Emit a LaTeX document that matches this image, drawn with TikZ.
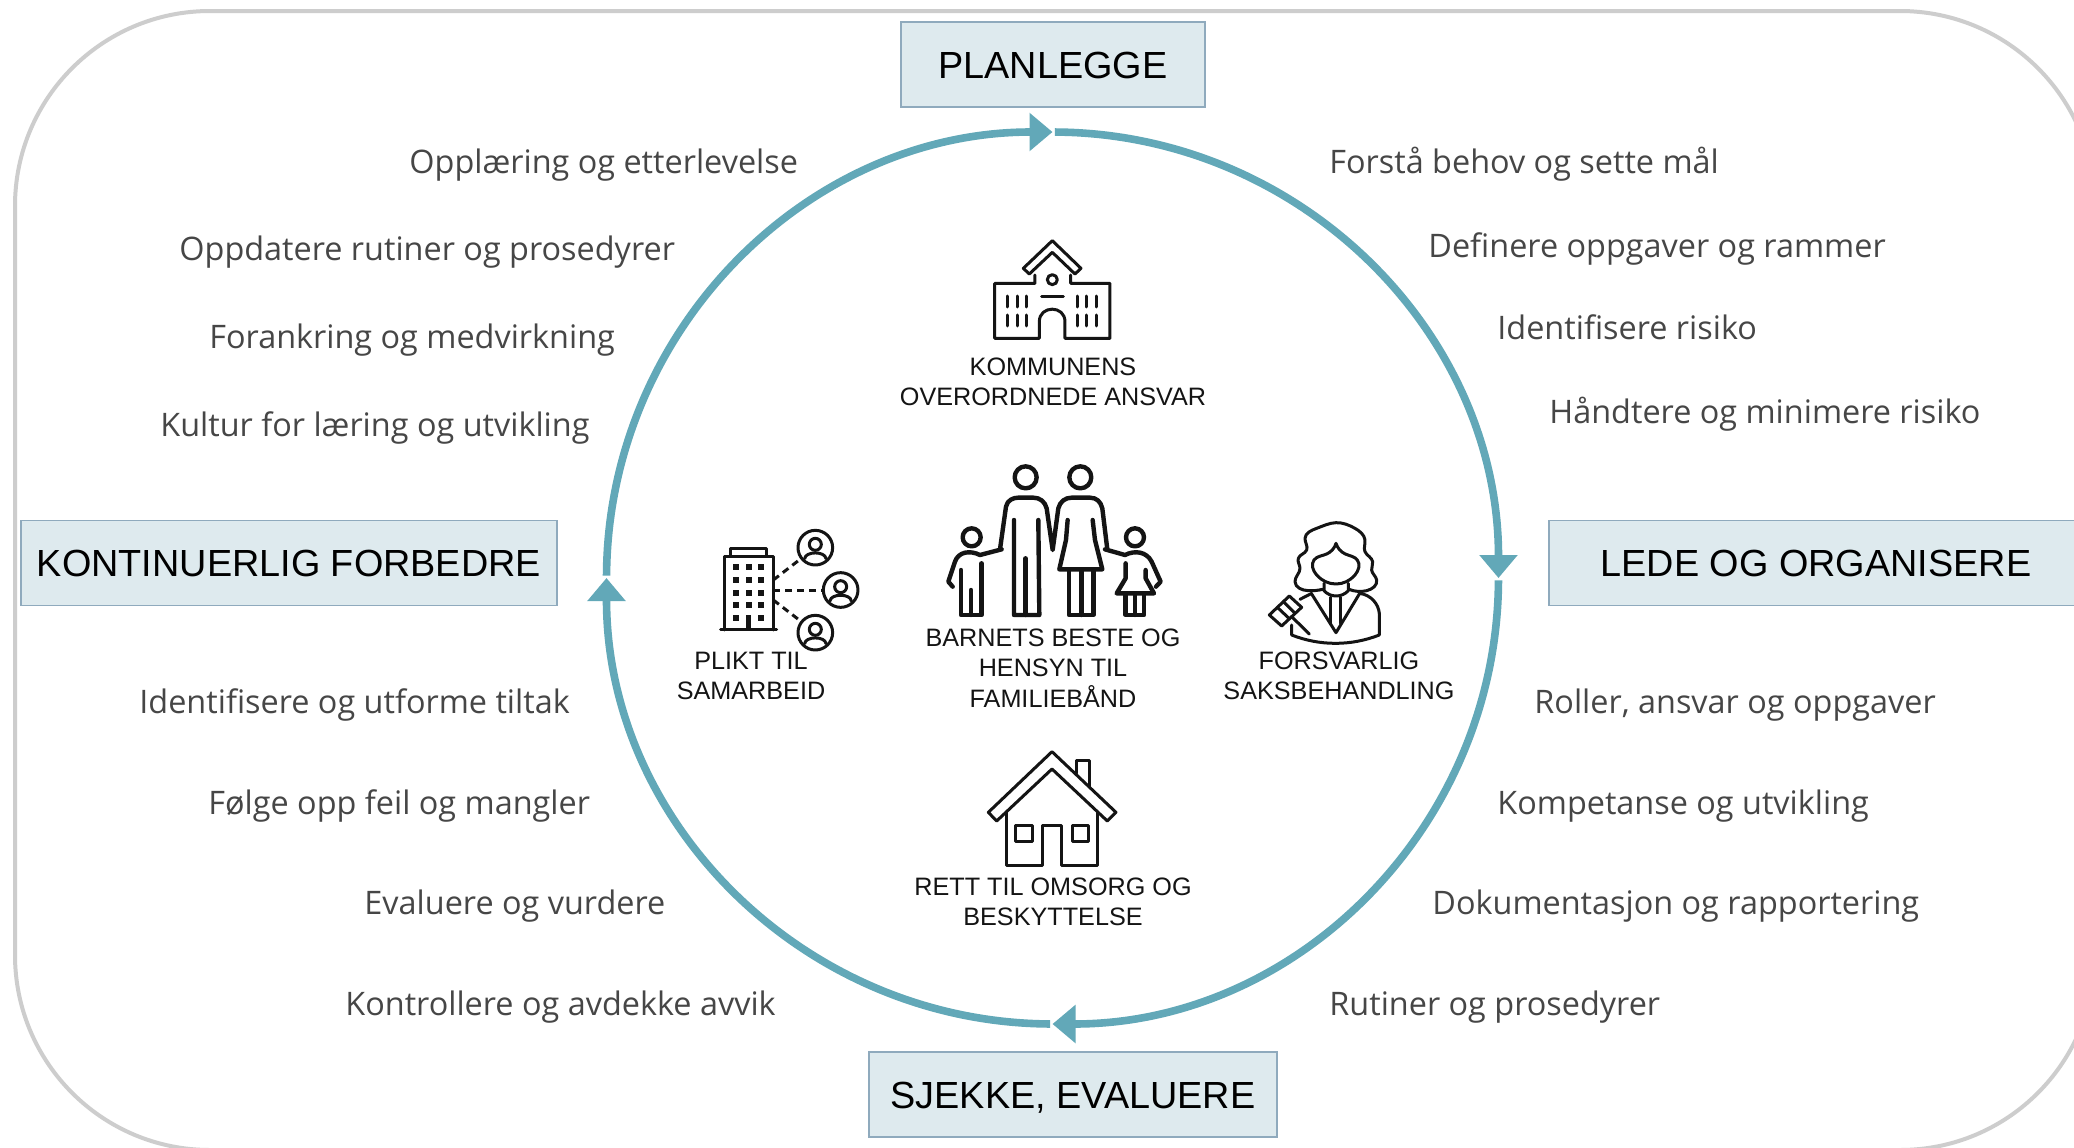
\documentclass[tikz,border=0pt]{standalone}
\usepackage{fontspec}
\setmainfont{Open Sans}
\newfontfamily\boxfont{Liberation Sans}
\usetikzlibrary{
	arrows.meta,
	hobby,
	calc
}
\definecolor{ringcol}{HTML}{62A8B8}
\definecolor{boxfill}{HTML}{DEEAEE}
\definecolor{boxline}{HTML}{8FAABD}
\definecolor{framecol}{HTML}{CDCDCD}
\definecolor{itemcol}{HTML}{464646}
\definecolor{iconcol}{HTML}{141414}
\tikzset{
	frame/.style={draw=framecol, line width=2pt, rounded corners=97.5pt},
	ring/.style={draw=ringcol, line width=3.8pt, -{Triangle[length=11.5pt, width=18.5pt]}},
	phase/.style={
		draw=boxline, fill=boxfill, line width=.9pt, inner sep=0pt,
		minimum height=42.5pt, text height=13.9pt, text depth=0pt, text=black,
		font=\boxfont\fontsize{18.9pt}{23pt}\selectfont
	},
	item/.style={
		anchor=base west, inner sep=0pt, text=itemcol, yshift=-.6pt,
		font=\fontsize{16.2pt}{20pt}\selectfont
	},
	caption/.style={
		align=center, inner sep=0pt, text=iconcol,
		font=\boxfont\fontsize{12.6pt}{15.2pt}\selectfont
	},
	icon/.style={draw=iconcol, line width=1.5pt, line join=round, line cap=round},
	zoomed/.style={shift={#1}, scale=.3333}
}
\begin{document}
\begin{tikzpicture}[x=.5pt, y=-.5pt]
	\clip (0,0) rectangle (2074,1147);
	\fill[white] (0,0) rectangle (2074,1147);
	\draw[frame] (15,11) rectangle (2095,1150);

	% cycle
	\coordinate (mid) at (1052.5,578);
	\foreach \a in {90,0,-90,-180}
		\draw[ring] ([shift={(\a-.3:223pt)}]mid) arc[start angle=\a-.3, delta angle=-89.7, radius=223pt];

	% phases
	\node[phase, minimum width=152pt] (planlegge) at (1053,64.5) {PLANLEGGE};
	\node[phase, minimum width=268pt] (forbedre) at (289,563) {KONTINUERLIG FORBEDRE};
	\node[phase, minimum width=267pt] (organisere) at (1816,563) {LEDE OG ORGANISERE};
	\node[phase, minimum width=204pt] (evaluere) at (1073,1094.5) {SJEKKE, EVALUERE};

	% items
	\node[item] (i1) at (1329,172) {Forstå behov og sette mål};
	\node[item] (i2) at (1428,256) {Definere oppgaver og rammer};
	\node[item] (i3) at (1497,338) {Identifisere risiko};
	\node[item] (i4) at (1549,422) {Håndtere og minimere risiko};
	\node[item] (i5) at (1534,712) {Roller, ansvar og oppgaver};
	\node[item] (i6) at (1497,813) {Kompetanse og utvikling};
	\node[item] (i7) at (1432,913) {Dokumentasjon og rapportering};
	\node[item] (i8) at (1329,1014) {Rutiner og prosedyrer};
	\node[item] (i9) at (409,172) {Opplæring og etterlevelse};
	\node[item] (i10) at (179,259) {Oppdatere rutiner og prosedyrer};
	\node[item] (i11) at (209,347) {Forankring og medvirkning};
	\node[item] (i12) at (160,435) {Kultur for læring og utvikling};
	\node[item] (i13) at (139,712) {Identifisere og utforme tiltak};
	\node[item] (i14) at (208,813) {Følge opp feil og mangler};
	\node[item] (i15) at (364,913) {Evaluere og vurdere};
	\node[item] (i16) at (345,1014) {Kontrollere og avdekke avvik};

	% captions
	\node[caption] (ansvar) at (1053,382) {KOMMUNENS\\OVERORDNEDE ANSVAR};
	\node[caption] (barnet) at (1053,668) {BARNETS BESTE OG\\HENSYN TIL\\FAMILIEBÅND};
	\node[caption] (samarbeid) at (751,676) {PLIKT TIL\\SAMARBEID};
	\node[caption] (saksbeh) at (1339,676) {FORSVARLIG\\SAKSBEHANDLING};
	\node[caption] (omsorg) at (1053,902) {RETT TIL OMSORG OG\\BESKYTTELSE};

	% school
	\begin{scope}[zoomed={(900,220)}, icon]
		\draw (370,145) -- (457,62) -- (543,145) -- (525,162) -- (457,97) -- (388,162) -- cycle;
		\draw (405,165) -- (405,190) -- (284,190) -- (284,355) -- (418,355) -- (418,305)
			.. controls (418,255) and (495,255) .. (495,305) -- (495,355) -- (630,355) -- (630,190) -- (512,190) -- (512,165);
		\draw (457,179) circle[radius=15];
		\draw (425,230) -- (490,230);
		\foreach \x in {323,352,381,532,561,590}
			\foreach \y in {228,285}
				\draw (\x,\y) -- (\x,\y+33);
	\end{scope}

	% family
	\begin{scope}[zoomed={(920,450)}, icon, line width=2.2pt]
		\foreach \x/\y/\r in {317/82/33,481/82/33,155/262/27,645/262/27}
			\draw (\x,\y) circle[radius=\r];
		\draw (240,298) -- (258,170) .. controls (262,150) and (280,143) .. (295,143) -- (340,143)
			.. controls (360,143) and (375,155) .. (380,175) -- (398,300) -- (415,175)
			.. controls (420,155) and (435,143) .. (455,143) -- (510,143)
			.. controls (530,143) and (542,155) .. (547,175) -- (562,298);
		\draw (282,210) -- (282,495) -- (358,495) -- (355,210);
		\draw (317,325) -- (317,495);
		\draw (443,210) -- (438,270) -- (418,358) -- (547,358) -- (525,270) -- (518,210);
		\draw (447,358) -- (447,495) -- (520,495) -- (520,358);
		\draw (484,365) -- (484,495);
		\draw (245,298) -- (180,315) .. controls (150,300) and (115,305) .. (105,335) -- (85,395) -- (98,410);
		\draw (123,360) -- (123,495) -- (185,495) -- (185,340);
		\draw (153,420) -- (153,495);
		\draw (555,298) -- (615,315) .. controls (645,300) and (680,305) .. (695,335) -- (722,395) -- (708,410);
		\draw (617,340) -- (617,385) -- (590,430) -- (702,430) -- (677,385) -- (677,360);
		\draw (617,430) -- (617,495) -- (672,495) -- (672,430);
		\draw (645,430) -- (645,495);
	\end{scope}

	% office with people
	\begin{scope}[zoomed={(690,510)}, icon]
		\draw (122,135) -- (122,115) -- (230,115) -- (230,135);
		\draw (103,360) -- (103,138) -- (250,138) -- (250,360);
		\draw (92,360) -- (260,360);
		\foreach \x in {138,176,214}
			\foreach \y in {172,210,248,286}
				\fill[iconcol] (\x-9,\y-9) rectangle (\x+9,\y+9);
		\foreach \x in {138,214}
			\fill[iconcol] (\x-9,314) rectangle (\x+9,332);
		\fill[iconcol] (168,314) rectangle (184,360);
		\foreach \x/\y in {376/113,452/240,376/368} {
			\draw (\x,\y) circle[radius=52];
			\draw (\x,\y-10) circle[radius=18];
			\draw (\x-32,\y+33) .. controls (\x-30,\y+10) and (\x+30,\y+10) .. (\x+32,\y+33);
		}
		\draw[dash pattern=on 3.5pt off 2.5pt, line cap=butt] (250,210) -- (325,152);
		\draw[dash pattern=on 3.5pt off 2.5pt, line cap=butt] (250,240) -- (395,240);
		\draw[dash pattern=on 3.5pt off 2.5pt, line cap=butt] (250,270) -- (325,328);
	\end{scope}

	% judge
	\begin{scope}[zoomed={(1250,500)}, icon, use Hobby shortcut]
		\draw (218,268) .. (175,272) .. (135,245) .. (150,205) .. (145,175) .. (170,150) .. (165,115) .. (200,85) .. (258,68) .. (315,85) .. (345,120) .. (345,155) .. (368,185) .. (365,210) .. (380,240) .. (350,272) .. (297,268);
		\draw (258,130) .. (230,162) .. (192,180) .. (200,225) .. (258,252) .. (315,225) .. (322,180) .. (286,162) .. (258,130);
		\draw (222,250) -- (222,272) .. (258,288) .. (295,272) -- (295,250);
		\draw (185,282) -- (258,398) -- (328,282);
		\draw (240,292) -- (240,370);
		\draw (272,292) -- (272,370);
		\draw (150,298) -- (185,280);
		\draw (328,280) .. (372,303) .. (388,340);
		\draw (388,340) -- (388,405) .. (255,430) .. (125,405) -- (125,375);
		\draw (58,345) -- (118,288) -- (155,322) -- (95,378) -- cycle;
		\draw (82,322) -- (118,356);
		\draw (100,305) -- (135,340);
		\draw (125,350) -- (178,402);
	\end{scope}

	% house
	\begin{scope}[zoomed={(960,740)}, icon]
		\draw (85,217) -- (276,35) -- (468,217) -- (442,243) -- (276,87) -- (110,243) -- cycle;
		\draw (138,215) -- (138,375) -- (248,375) -- (248,255) -- (305,255) -- (305,375) -- (412,375) -- (412,215);
		\draw (167,255) rectangle (216,303);
		\draw (337,255) rectangle (387,303);
		\draw (350,100) -- (350,62) -- (390,62) -- (390,140);
	\end{scope}
\end{tikzpicture}
\end{document}
